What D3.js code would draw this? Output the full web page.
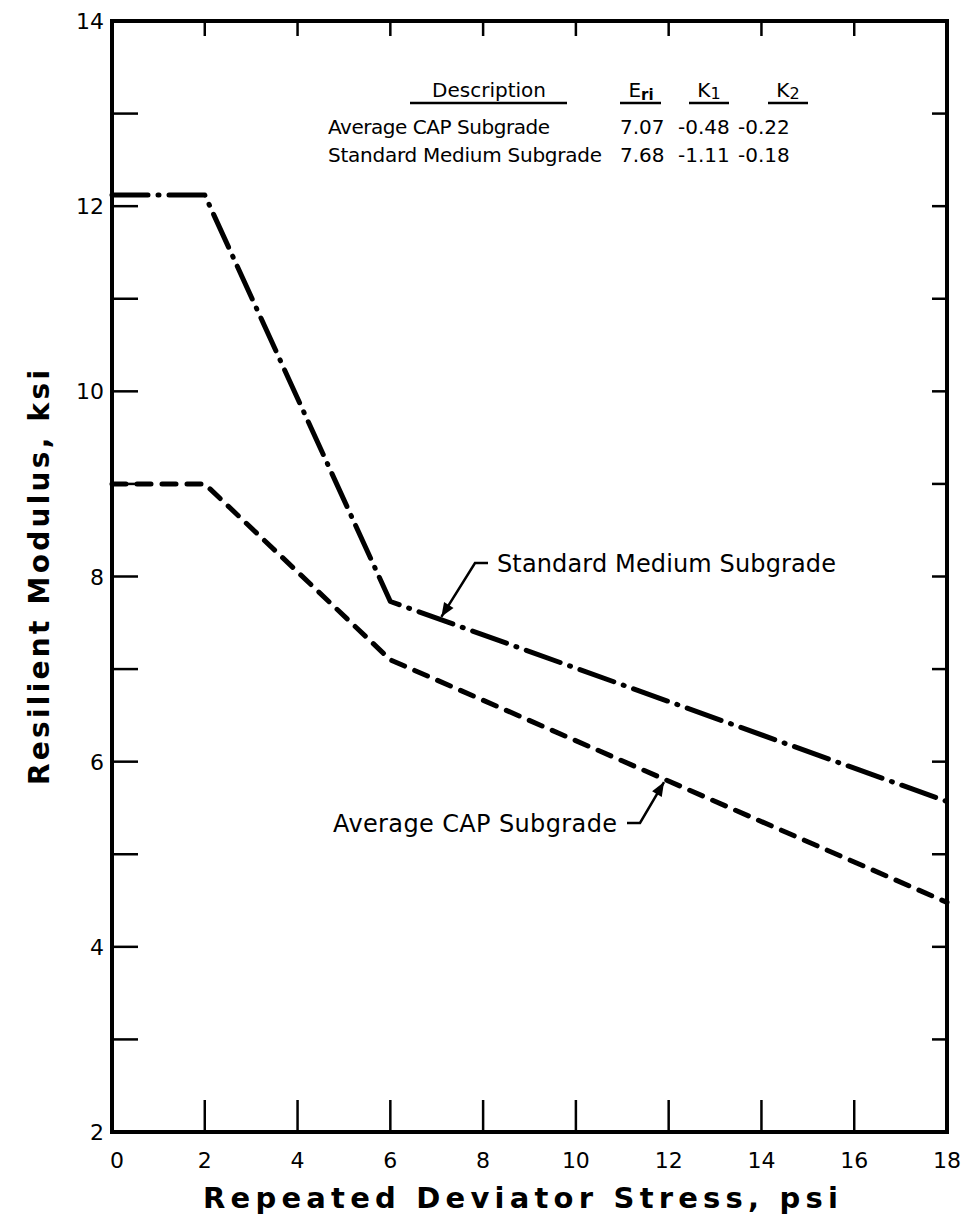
<!DOCTYPE html>
<html>
<head>
<meta charset="utf-8">
<script src="https://cdn.jsdelivr.net/npm/d3@7"></script>
<style>
  body { margin: 0; background: #fff; }
  svg { display: block; font-family: "DejaVu Sans", sans-serif; }
</style>
</head>
<body>
<svg id="chart" width="964" height="1224"></svg>
<script>
// Data
const stressX = [0, 2, 6, 18];
const standardMedium = [12.12, 12.12, 7.73, 5.57];
const averageCap = [9.0, 9.0, 7.1, 4.48];

const xTicks = [0, 2, 4, 6, 8, 10, 12, 14, 16, 18];
const yLabels = [2, 4, 6, 8, 10, 12, 14];
const yTicks = d3.range(3, 14);

const tableHeader = ['Description', 'Eri', 'K1', 'K2'];
const tableRows = [
  ['Average CAP Subgrade', '7.07', '-0.48', '-0.22'],
  ['Standard Medium Subgrade', '7.68', '-1.11', '-0.18']
];

const svg = d3.select('#chart');
const plotL = 112, plotR = 947, plotT = 21, plotB = 1132;

const x = d3.scaleLinear().domain([0, 18]).range([plotL, plotR]);
const y = d3.scaleLinear().domain([2, 14]).range([plotB, plotT]);

// Ticks (inward)
const tickG = svg.append('g').attr('stroke', '#000').attr('stroke-width', 2.5);
xTicks.slice(1, -1).forEach(v => {
  tickG.append('line').attr('x1', x(v)).attr('x2', x(v)).attr('y1', plotB).attr('y2', plotB - 32);
  tickG.append('line').attr('x1', x(v)).attr('x2', x(v)).attr('y1', plotT).attr('y2', plotT + 15);
});
yTicks.forEach(v => {
  tickG.append('line').attr('x1', plotL).attr('x2', plotL + 26).attr('y1', y(v)).attr('y2', y(v));
  tickG.append('line').attr('x1', plotR).attr('x2', plotR - 15).attr('y1', y(v)).attr('y2', y(v));
});

// Frame
svg.append('rect')
  .attr('x', plotL).attr('y', plotT)
  .attr('width', plotR - plotL).attr('height', plotB - plotT)
  .attr('fill', 'none').attr('stroke', '#000').attr('stroke-width', 4);

// Tick labels
svg.append('g').selectAll('text').data(xTicks).join('text')
  .attr('x', d => x(d) + (d === 0 ? 5 : 0)).attr('y', 1168)
  .attr('text-anchor', 'middle').attr('font-size', 22)
  .text(d => d);

svg.append('g').selectAll('text').data(yLabels).join('text')
  .attr('x', 104).attr('y', d => y(d) + 8)
  .attr('text-anchor', 'end').attr('font-size', 22)
  .text(d => d);

// Curves
const line = d3.line().x(d => x(d[0])).y(d => y(d[1]));

svg.append('path')
  .datum(stressX.map((v, i) => [v, standardMedium[i]]))
  .attr('d', line)
  .attr('fill', 'none').attr('stroke', '#000').attr('stroke-width', 5)
  .attr('stroke-linecap', 'round').attr('stroke-linejoin', 'round')
  .attr('stroke-dasharray', '36 10 1 10');

svg.append('path')
  .datum(stressX.map((v, i) => [v, averageCap[i]]))
  .attr('d', line)
  .attr('fill', 'none').attr('stroke', '#000').attr('stroke-width', 5)
  .attr('stroke-linecap', 'round').attr('stroke-linejoin', 'round')
  .attr('stroke-dasharray', '14 11');

// Annotations with arrows
svg.append('defs').append('marker')
  .attr('id', 'arrow').attr('viewBox', '0 0 10 10')
  .attr('refX', 10).attr('refY', 5)
  .attr('markerWidth', 18).attr('markerHeight', 14)
  .attr('markerUnits', 'userSpaceOnUse')
  .attr('orient', 'auto')
  .append('path').attr('d', 'M0,1 L10,5 L0,9 Z').attr('fill', '#000');

function interp(series, xv) {
  return d3.scaleLinear().domain(stressX).range(series)(xv);
}

const stdTipX = 7.1;
svg.append('path')
  .attr('d', `M488,563 L475,563 L${x(stdTipX)},${y(interp(standardMedium, stdTipX)) - 3}`)
  .attr('fill', 'none').attr('stroke', '#000').attr('stroke-width', 2.5)
  .attr('marker-end', 'url(#arrow)');
svg.append('text').attr('x', 497).attr('y', 572).attr('font-size', 24)
  .attr('textLength', 339).attr('lengthAdjust', 'spacing')
  .text('Standard Medium Subgrade');

const avgTipX = 11.9;
svg.append('path')
  .attr('d', `M627,823 L640,823 L${x(avgTipX)},${y(interp(averageCap, avgTipX)) + 3}`)
  .attr('fill', 'none').attr('stroke', '#000').attr('stroke-width', 2.5)
  .attr('marker-end', 'url(#arrow)');
svg.append('text').attr('x', 333).attr('y', 832).attr('font-size', 24)
  .attr('textLength', 284).attr('lengthAdjust', 'spacing')
  .text('Average CAP Subgrade');

// Table
const tbl = svg.append('g').attr('font-size', 20);
const colX = [328, 620, 678, 738];
const headCenters = [489, 641, 709, 788];
const underline = [[410, 567], [620, 661], [689, 729], [768, 808]];

tbl.append('text').attr('x', headCenters[0]).attr('y', 97).attr('text-anchor', 'middle').text(tableHeader[0]);
const eri = tbl.append('text').attr('x', headCenters[1]).attr('y', 97).attr('text-anchor', 'middle');
eri.append('tspan').text('E');
eri.append('tspan').attr('font-size', 15).attr('font-weight', 'bold').attr('dy', 3).text('ri');
const k1 = tbl.append('text').attr('x', headCenters[2]).attr('y', 97).attr('text-anchor', 'middle');
k1.append('tspan').text('K');
k1.append('tspan').attr('font-size', 16).attr('dy', 2).text('1');
const k2 = tbl.append('text').attr('x', headCenters[3]).attr('y', 97).attr('text-anchor', 'middle');
k2.append('tspan').text('K');
k2.append('tspan').attr('font-size', 16).attr('dy', 2).text('2');

underline.forEach(u => {
  tbl.append('line').attr('x1', u[0]).attr('x2', u[1]).attr('y1', 103).attr('y2', 103)
    .attr('stroke', '#000').attr('stroke-width', 2.5);
});

tableRows.forEach((row, r) => {
  row.forEach((cell, c) => {
    const t = tbl.append('text').attr('x', colX[c]).attr('y', 134 + r * 28).text(cell);
    if (c === 0) t.attr('textLength', r === 0 ? 222 : 274).attr('lengthAdjust', 'spacing');
  });
});

// Axis titles
svg.append('text')
  .attr('x', 203).attr('y', 1208)
  .attr('font-size', 29).attr('font-weight', 'bold')
  .attr('textLength', 635).attr('lengthAdjust', 'spacing')
  .text('Repeated Deviator Stress, psi');

svg.append('text')
  .attr('transform', 'translate(49,785) rotate(-90)')
  .attr('font-size', 28).attr('font-weight', 'bold')
  .attr('textLength', 415).attr('lengthAdjust', 'spacing')
  .text('Resilient Modulus, ksi');
</script>
</body>
</html>
